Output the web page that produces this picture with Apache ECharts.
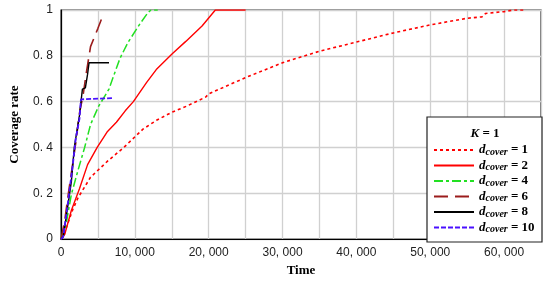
<!DOCTYPE html>
<html>
<head>
<meta charset="utf-8">
<script src="https://cdn.jsdelivr.net/npm/echarts@6/dist/echarts.min.js"></script>
<style>
  html, body { margin: 0; padding: 0; background: #fff; }
  #chart { width: 550px; height: 282px; }
</style>
</head>
<body>
<div id="chart"></div>
<script>
// coverage rate vs time, K = 1
const dcover1 = [[0,0],[400,0.02],[900,0.066],[1600,0.13],[2300,0.18],[4000,0.27],[6300,0.34],[8500,0.4],[11100,0.48],[13000,0.52],[15100,0.555],[17000,0.58],[19600,0.62],[20000,0.634],[25000,0.705],[30000,0.77],[35000,0.82],[40000,0.86],[45000,0.9],[50000,0.935],[55000,0.964],[57000,0.97],[57500,0.985],[60000,0.993],[61300,1],[63000,1]]
const dcover2 = [[0,0],[500,0.02],[1400,0.125],[2500,0.22],[3600,0.325],[4900,0.4],[6300,0.47],[7500,0.51],[8700,0.56],[9800,0.6],[11600,0.684],[12900,0.74],[15100,0.81],[16900,0.863],[19100,0.93],[20900,1],[25000,1]]
const dcover4 = [[0,0],[700,0.066],[1400,0.195],[2300,0.3],[3200,0.4],[4000,0.5],[5100,0.58],[6500,0.655],[7100,0.71],[8000,0.79],[9100,0.86],[10700,0.94],[11800,0.99],[12200,1],[13100,1]]
const dcover6 = [[0,0],[500,0.08],[1000,0.2],[1500,0.31],[2000,0.42],[2500,0.55],[3000,0.63],[3400,0.72],[4000,0.84],[4500,0.88],[5000,0.92],[5600,0.97]]
const dcover8 = [[0,0],[300,0.01],[900,0.14],[1400,0.25],[1800,0.4],[2500,0.54],[2900,0.655],[3300,0.66],[3600,0.72],[3800,0.77],[6500,0.77]]
const dcover10 = [[0,0],[300,0.01],[900,0.15],[1600,0.325],[2000,0.44],[2500,0.525],[2700,0.61],[2900,0.615],[6900,0.615]]

const legendNames = ['1', '2', '4', '6', '8', '10']

const myChart = echarts.init(document.getElementById('chart'))

function makeSeries(name, data, color, type, width) {
  return {
    name: name,
    type: 'line',
    data: data,
    symbol: 'none',
    z: 3,
    lineStyle: { color: color, type: type, width: width },
    itemStyle: { color: color }
  }
}

myChart.setOption({
  animation: false,
  grid: {
    left: 53, right: 9, top: 10, bottom: 40,
    show: true, borderColor: '#222', borderWidth: 1.2
  },
  xAxis: {
    type: 'value',
    min: 0, max: 65000, interval: 5000,
    name: 'Time',
    nameLocation: 'middle',
    nameGap: 22,
    nameTextStyle: { fontFamily: 'Liberation Serif', fontWeight: 'bold', fontSize: 13, color: '#000' },
    axisLine: { lineStyle: { color: '#000', width: 1.2 } },
    axisTick: { show: false },
    axisLabel: {
      color: '#222', fontFamily: 'Liberation Sans', fontSize: 12, margin: 8,
      formatter: v => v % 10000 ? '' : (v === 0 ? '0' : (v / 1000) + ', 000')
    },
    splitLine: { lineStyle: { color: '#d0d0d0', width: 1.3 } }
  },
  yAxis: {
    type: 'value',
    min: 0, max: 1, interval: 0.2,
    name: 'Coverage rate',
    nameLocation: 'middle',
    nameGap: 40,
    nameTextStyle: { fontFamily: 'Liberation Serif', fontWeight: 'bold', fontSize: 13, color: '#000' },
    axisLine: { show: true, lineStyle: { color: '#000', width: 1.2 } },
    axisTick: { show: false },
    axisLabel: {
      color: '#222', fontFamily: 'Liberation Sans', fontSize: 12, margin: 8,
      formatter: v => (v === 0 || v === 1) ? String(v) : v.toFixed(1).replace('.', '. ')
    },
    splitLine: { lineStyle: { color: '#d0d0d0', width: 1.3 } }
  },
  legend: {
    orient: 'vertical',
    left: 428, top: 137,
    itemWidth: 40, itemHeight: 10, itemGap: 0.5,
    z: 20,
    itemStyle: { opacity: 0 },
    data: legendNames,
    formatter: n => '{d|d}{s|cover}{n| = ' + n + '}',
    textStyle: {
      rich: {
        d: { fontFamily: 'Liberation Serif', fontStyle: 'italic', fontWeight: 'bold', fontSize: 13, color: '#000', lineHeight: 14, verticalAlign: 'middle' },
        s: { fontFamily: 'Liberation Serif', fontStyle: 'italic', fontWeight: 'bold', fontSize: 10, color: '#000', lineHeight: 14, verticalAlign: 'bottom', padding: [5, 0, 0, 0] },
        n: { fontFamily: 'Liberation Serif', fontWeight: 'bold', fontSize: 13, color: '#000', lineHeight: 14, verticalAlign: 'middle' }
      }
    }
  },
  graphic: {
    elements: [
      {
        type: 'rect', z: 10,
        shape: { x: 427, y: 117, width: 115, height: 125 },
        style: { fill: '#fff', stroke: '#222', lineWidth: 1.2 }
      },
      {
        type: 'text', z: 11,
        x: 485, y: 127,
        style: {
          text: '{k|K}{e| = 1}',
          align: 'center',
          rich: {
            k: { fontFamily: 'Liberation Serif', fontStyle: 'italic', fontWeight: 'bold', fontSize: 13, fill: '#000' },
            e: { fontFamily: 'Liberation Serif', fontWeight: 'bold', fontSize: 13, fill: '#000' }
          }
        }
      }
    ]
  },
  series: [
    makeSeries('1', dcover1, '#ff0000', [3, 3], 1.6),
    makeSeries('2', dcover2, '#ff0000', 'solid', 1.4),
    makeSeries('4', dcover4, '#22e022', [9, 3, 3, 3], 1.5),
    makeSeries('6', dcover6, '#9b1c1c', [14, 7], 1.6),
    makeSeries('8', dcover8, '#000000', 'solid', 1.4),
    makeSeries('10', dcover10, '#4a10ff', [5, 2], 1.8)
  ]
})
</script>
</body>
</html>
